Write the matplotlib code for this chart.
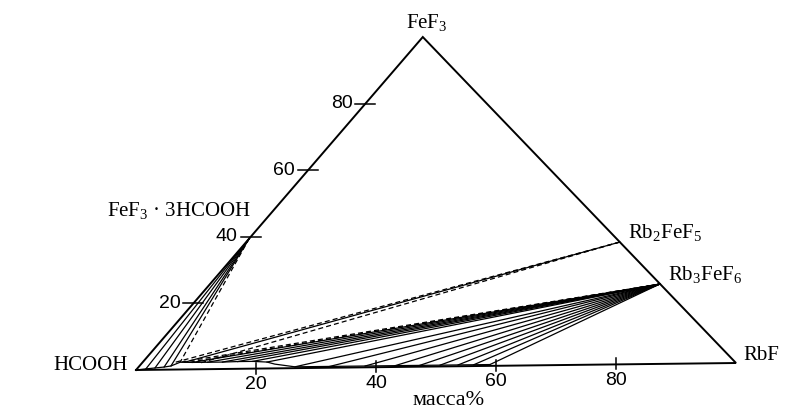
import numpy as np
import matplotlib
matplotlib.use("Agg")
import matplotlib.pyplot as plt

plt.rcParams['mathtext.fontset'] = 'custom'
plt.rcParams['mathtext.rm'] = 'Liberation Serif'
serif = 'Liberation Serif'
sans = 'Liberation Sans'

# compositions in mass% (RbF, FeF3), rest is HCOOH
solvate = (0.0, 39.5)      # FeF3*3HCOOH
rb2fef5 = (62.9, 37.1)
rb3fef6 = (75.7, 24.2)

# liquidus (saturated solution) curve
liq_rbf = [0.0, 1.5, 2.9, 4.3, 5.3, 6.3, 8.4, 10.9, 13.4, 15.9, 18.4, 20.9, 22.5,
           26.3, 32.1, 38.0, 43.0, 47.1, 50.5, 53.5, 56.1, 58.8]
liq_fef3 = [0.0, 0.3, 0.55, 0.8, 1.1, 2.2, 2.1, 2.1, 2.1, 2.2, 2.2, 1.95, 1.3,
            0.4, 0.4, 0.4, 0.4, 0.4, 0.4, 0.4, 0.4, 0.4]

# tie lines: liquid ends
solv_solid_rbf = [1.5, 2.9, 4.3, 5.3]
solv_solid_fef3 = [0.3, 0.55, 0.8, 1.1]
solv_dash_rbf = [6.3]
solv_dash_fef3 = [2.2]

rb2_solid_rbf = [7.1]
rb2_solid_fef3 = [2.2]
rb2_dash_rbf = [5.5, 9.8]
rb2_dash_fef3 = [2.2, 1.9]

rb3_solid_rbf = [8.4, 10.9, 13.4, 15.9, 18.4, 20.9,
                 26.3, 32.1, 38.0, 43.0, 47.1, 50.5, 53.5, 56.1, 58.8]
rb3_solid_fef3 = [2.1, 2.1, 2.1, 2.2, 2.2, 1.95,
                  0.4, 0.4, 0.4, 0.4, 0.4, 0.4, 0.4, 0.4, 0.4]
rb3_dash_rbf = [6.3, 8.0]
rb3_dash_fef3 = [2.2, 2.2]

ticks = [20, 40, 60, 80]


def tern(r, f):
    r = np.asarray(r, dtype=float)
    f = np.asarray(f, dtype=float)
    return r + 0.478 * f, f + 0.021 * r


fig = plt.figure(figsize=(7.97, 4.09), dpi=100)
ax = fig.add_axes([0, 0, 1, 1])
ax.set_xlim(-136 / 6, 661 / 6)
ax.set_ylim(-39 / 3.33, 370 / 3.33)
ax.axis('off')

# triangle
x, y = tern([0, 100, 0, 0], [0, 0, 100, 0])
ax.plot(x, y, color='black', lw=1.4, solid_joinstyle='miter')

# liquidus
x, y = tern(liq_rbf, liq_fef3)
ax.plot(x, y, color='black', lw=0.9)


def ties(solid, rs, fs, ls):
    for r, f in zip(rs, fs):
        x, y = tern([solid[0], r], [solid[1], f])
        ax.plot(x, y, color='black', lw=0.9, linestyle=ls)


dash = (0, (4, 2.5))
ties(solvate, solv_solid_rbf, solv_solid_fef3, '-')
ties(solvate, solv_dash_rbf, solv_dash_fef3, dash)
ties(rb2fef5, rb2_solid_rbf, rb2_solid_fef3, '-')
ties(rb2fef5, rb2_dash_rbf, rb2_dash_fef3, dash)
ties(rb3fef6, rb3_solid_rbf, rb3_solid_fef3, '-')
ties(rb3fef6, rb3_dash_rbf, rb3_dash_fef3, dash)

px = 0.72  # points per pixel

# ticks on the bottom (RbF) and left (FeF3) edges
for v in ticks:
    bx, by = tern(v, 0)
    ax.plot([bx, bx], [by + 6 / 3.33, by - 5 / 3.33], color='black', lw=1.1)
    ax.annotate(str(v), xy=(bx, by), xytext=(0, -16 * px), textcoords='offset points',
                ha='center', va='center', fontsize=14, family=sans)
    lx, ly = tern(0, v)
    ax.plot([lx - 10 / 6, lx + 10 / 6], [ly, ly], color='black', lw=1.1)
    ax.annotate(str(v), xy=(lx, ly), xytext=(-13 * px, 0), textcoords='offset points',
                ha='right', va='center', fontsize=14, family=sans)


def label(pt, txt, dx, dy, ha):
    x, y = tern(*pt)
    ax.annotate(txt, xy=(x, y), xytext=(dx * px, dy * px), textcoords='offset points',
                ha=ha, va='center', fontsize=15, family=serif)


label((0, 100), r'FeF$_\mathrm{3}$', 4, 14, 'center')
label(solvate, r'FeF$_\mathrm{3}$ · 3HCOOH', 2, 27, 'right')
label((0, 0), 'HCOOH', -8, 4, 'right')
label(rb2fef5, r'Rb$_\mathrm{2}$FeF$_\mathrm{5}$', 8, 9, 'left')
label(rb3fef6, r'Rb$_\mathrm{3}$FeF$_\mathrm{6}$', 8, 9, 'left')
label((100, 0), 'RbF', 7, 8, 'left')

mx, my = tern(50, 0)
ax.annotate('масса%', xy=(mx, my), xytext=(13 * px, -38 * px), textcoords='offset points',
            ha='center', va='baseline', fontsize=16, family=serif)

plt.savefig('out.png', dpi=100)
